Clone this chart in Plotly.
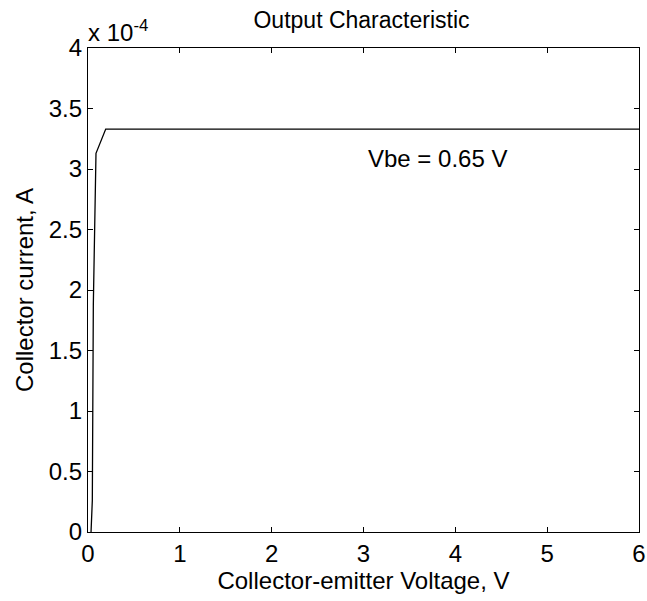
import plotly.graph_objects as go

# ===================== Data =========================
vce = [0.033, 0.047, 0.058, 0.079, 0.087, 0.193, 6.0]            # V
ic = [0.0, 0.26e-4, 1.88e-4, 2.81e-4, 3.13e-4, 3.33e-4, 3.33e-4]  # A

x_ticks = [0, 1, 2, 3, 4, 5, 6]
y_ticks = [0, 0.5e-4, 1e-4, 1.5e-4, 2e-4, 2.5e-4, 3e-4, 3.5e-4, 4e-4]
y_tick_text = ["0", "0.5", "1", "1.5", "2", "2.5", "3", "3.5", "4"]

FONT = "Liberation Sans, Arial, sans-serif"
FS = 24
W, H = 647, 601

# ===================== Figure =========================
fig = go.Figure()

fig.add_trace(go.Scatter(
    x=vce, y=ic, mode='lines',
    line=dict(color='black', width=1.3),
    showlegend=False
))

fig.add_annotation(
    x=3.806, y=3.087e-4, xref='x', yref='y',
    text='Vbe = 0.65 V', showarrow=False,
    font=dict(family=FONT, size=FS, color='black')
)

fig.add_annotation(
    x=0, y=1, xref='paper', yref='paper',
    xanchor='left', yanchor='bottom', yshift=0, xshift=-2,
    text='x 10<sup>-4</sup>', showarrow=False,
    font=dict(family=FONT, size=FS, color='black')
)

axis_common = dict(
    showline=True, linecolor='black', linewidth=1.2, mirror='ticks',
    ticks='inside', ticklen=5, tickcolor='black', tickwidth=1,
    showgrid=False, zeroline=False, automargin=False,
    tickfont=dict(family=FONT, size=FS, color='black'),
)

fig.update_layout(
    width=W, height=H,
    margin=dict(l=88, r=8, t=48, b=69),
    paper_bgcolor='white', plot_bgcolor='white',
    title=dict(text='Output Characteristic', x=361.5 / W, xanchor='center',
               y=1 - 20 / H, yanchor='middle',
               font=dict(family=FONT, size=23, color='black')),
    xaxis=dict(range=[0, 6], tickvals=x_ticks,
               title=dict(text='Collector-emitter Voltage, V', standoff=2,
                          font=dict(family=FONT, size=FS, color='black')),
               **axis_common),
    yaxis=dict(range=[0, 4e-4], tickvals=y_ticks, ticktext=y_tick_text,
               title=dict(text='Collector current, A', standoff=8,
                          font=dict(family=FONT, size=FS, color='black')),
               **axis_common),
)

# drop the default page margin so the figure fills the window
fig.write_html("out.html", config={'displayModeBar': False},
               post_script="document.body.style.margin='0';")
